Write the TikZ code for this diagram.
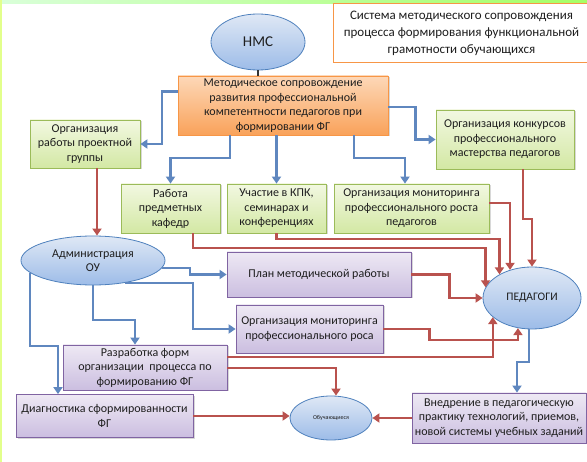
\documentclass[tikz,border=0pt]{standalone}
\usepackage{fontspec}
\setmainfont{Carlito}
\usetikzlibrary{shapes.geometric,arrows.meta,shadows}
\definecolor{grnline}{HTML}{9BBB59}
\definecolor{grntop}{HTML}{F2F8E1}
\definecolor{grnbot}{HTML}{D3E8A4}
\definecolor{orgline}{HTML}{F79646}
\definecolor{orgtop}{HTML}{FDD8B8}
\definecolor{orgbot}{HTML}{F9A25A}
\definecolor{violine}{HTML}{8064A2}
\definecolor{viotop}{HTML}{EEE9F4}
\definecolor{viobot}{HTML}{CBBEE0}
\definecolor{ovlline}{HTML}{4F81BD}
\definecolor{ovltop}{HTML}{DFE8F5}
\definecolor{ovlbot}{HTML}{9DBCE8}
\definecolor{bluln}{HTML}{5F87BF}
\definecolor{redln}{HTML}{B9524E}
\definecolor{txt}{HTML}{1E1E1E}
\begin{document}
\begin{tikzpicture}[x=1pt,y=-1pt,
  box/.style={draw, line width=0.8pt, align=center, inner sep=0pt, text=txt,
    font=\fontsize{12}{14.5}\selectfont,
    drop shadow={shadow xshift=1.5pt,shadow yshift=-1.5pt,opacity=0.3}},
  grnbox/.style={box, draw=grnline, top color=grntop, bottom color=grnbot},
  orgbox/.style={box, draw=orgline, top color=orgtop, bottom color=orgbot},
  viobox/.style={box, draw=violine, top color=viotop, bottom color=viobot},
  oval/.style={ellipse, draw=ovlline, line width=0.8pt, top color=ovltop, bottom color=ovlbot,
    inner sep=0pt, align=center, text=txt, font=\fontsize{12}{14.5}\selectfont},
  bluearr/.style={draw=bluln, line width=2.2pt, -{Triangle[length=7pt,width=9pt]}},
  redarr/.style={draw=redln, line width=2.2pt, -{Triangle[length=7pt,width=9pt]}}]
\useasboundingbox (0,0) rectangle (587,462);
\fill[white] (0,0) rectangle (587,462);
\shade[left color=green!15, right color=green!45!lime!60] (0,0) rectangle (587,4);
\fill[lime!45] (0,0) rectangle (2,462);

\node[draw=orgline, line width=1pt, fill=white, minimum width=257pt, minimum height=59pt, align=center,
  text=txt, font=\fontsize{13}{17}\selectfont] (title) at (461.5,33)
  {Система методического  сопровождения\\ процесса формирования функциональной\\ грамотности обучающихся};

\node[oval, minimum width=94pt, minimum height=56pt, font=\fontsize{15}{17}\selectfont] (nms) at (258,42) {НМС};
\node[orgbox, minimum width=210pt, minimum height=59pt] (orange) at (283,105.5)
  {Методическое сопровождение\\ развития профессиональной\\ компетентности педагогов при\\ формировании ФГ};
\node[grnbox, minimum width=110pt, minimum height=48pt] (proj) at (85,144)
  {Организация\\ работы проектной\\ группы};
\node[grnbox, minimum width=138pt, minimum height=59pt] (konk) at (505,139.5)
  {Организация конкурсов\\ профессионального\\ мастерства педагогов};
\node[grnbox, minimum width=99pt, minimum height=49pt] (kaf) at (170.5,208.5)
  {Работа\\ предметных\\ кафедр};
\node[grnbox, minimum width=99pt, minimum height=49pt] (kpk) at (276.5,208.5)
  {Участие в КПК,\\ семинарах и\\ конференциях};
\node[grnbox, minimum width=155pt, minimum height=49pt] (monped) at (411.5,208.5)
  {Организация мониторинга\\ профессионального роста\\ педагогов};
\node[oval, minimum width=144pt, minimum height=49pt] (admin) at (93,260.5) {Администрация\\ ОУ};
\node[viobox, minimum width=184pt, minimum height=45pt] (plan) at (319,274.5) {План методической работы};
\node[viobox, minimum width=147pt, minimum height=48pt] (monros) at (309.5,329)
  {Организация мониторинга\\ профессионального роса};
\node[viobox, minimum width=164pt, minimum height=45pt] (razr) at (145,367.5)
  {Разработка форм\\ организации \ процесса по\\ формированию ФГ};
\node[viobox, minimum width=177pt, minimum height=43pt] (diag) at (104.5,416)
  {Диагностика сформированности\\ ФГ};
\node[oval, minimum width=82pt, minimum height=44pt, font=\fontsize{6}{7}\selectfont] (obuch) at (331,418) {Обучающиеся};
\node[viobox, minimum width=174pt, minimum height=50pt] (vnedr) at (499,418)
  {Внедрение в педагогическую\\ практику технологий, приемов,\\ новой системы учебных заданий};
\node[oval, minimum width=98pt, minimum height=62pt, font=\fontsize{11.5}{14}\selectfont] (ped) at (532,298) {ПЕДАГОГИ};

\draw[line width=1.5pt, black!80] (nms.south) -- (nms.south |- orange.north);
\draw[bluearr] ([yshift=14pt]orange.west) -- ++(-16,0) |- (proj.east);
\draw[bluearr] ([yshift=-1.5pt]orange.east) -- ++(27,0) |- (konk.west);
\draw[bluearr] ([xshift=-53pt]orange.south) -- ++(0,23) -| (kaf.north);
\draw[bluearr] (kpk.north |- orange.south) -- (kpk.north);
\draw[bluearr] ([xshift=71pt]orange.south) -- ++(0,23) -| ([xshift=-6.5pt]monped.north);
\draw[bluearr] (admin.-6) -- ++(28,0) |- (plan.west);
\draw[bluearr] (admin.-35) -- ++(68,0) |- (monros.west);
\draw[bluearr] (admin.191) -- ++(0,73) -| ([xshift=-46.5pt]diag.north);
\draw[bluearr] (admin.south) -- ++(0,35) -| ([xshift=-10pt]razr.north);
\draw[bluearr] ([xshift=-3pt]ped.south) -- ++(0,33) -| ([xshift=18pt]vnedr.north);

\draw[redarr] ([xshift=12pt]proj.south) -- ([xshift=4pt]admin.north);
\draw[redarr] ([xshift=22.5pt]kaf.south) -- ++(0,15) -| (ped.167);
\draw[redarr] (kpk.south) -- ++(0,6) -| (ped.144);
\draw[redarr] ([yshift=5.5pt]monped.east) -| (ped.128);
\draw[redarr] ([xshift=18pt]konk.south) -- ++(0,50) -| (ped.north);
\draw[redarr] (plan.east) -- ++(38,0) |- (ped.west);
\draw[redarr] (monros.east) -- ++(46,0) -- ++(0,11) -| (ped.245);
\draw[redarr] ([yshift=10.5pt]razr.east) -| (ped.206);
\draw[redarr] ([yshift=-0.5pt]razr.east) -| ([xshift=5pt]obuch.north);
\draw[redarr] (diag.east) -- (diag.east -| obuch.west);
\draw[redarr] (vnedr.west) -- (vnedr.west -| obuch.east);
\end{tikzpicture}
\end{document}
